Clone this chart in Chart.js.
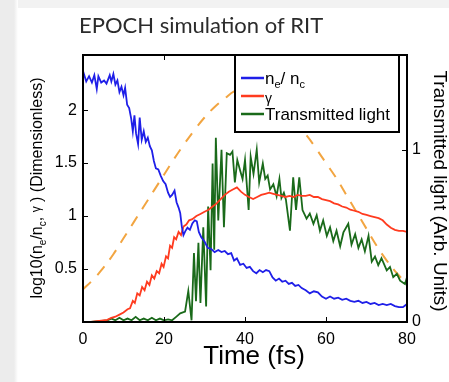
<!DOCTYPE html>
<html>
<head>
<meta charset="utf-8">
<script src="https://cdn.jsdelivr.net/npm/chart.js@4/dist/chart.umd.min.js"></script>
<style>
  html, body { margin: 0; padding: 0; background: #fff; }
  #wrap { position: relative; width: 449px; height: 382px; overflow: hidden; }
  #top-strip { position: absolute; left: 0; top: 0; width: 449px; height: 8px; background: #f2f2f2; }
  #left-strip { position: absolute; left: 0; top: 0; width: 18px; height: 382px;
    background: linear-gradient(to right, #ececec 0, #ececec 14px, #f6f6f6 16px, #fff 18px); }
  canvas { position: absolute; left: 0; top: 0; }
</style>
</head>
<body>
<div id="wrap">
  <div id="top-strip"></div>
  <div id="left-strip"></div>
  <canvas id="rit-chart" width="449" height="382"></canvas>
</div>
<script>
// n_e / n_c (left axis, log10)
const neTime = [0,0.8,1.5,2.2,2.8,3.4,3.8,4.5,5.2,5.8,
  6.6,7.0,7.5,8.0,8.5,9.0,9.5,10.0,10.4,10.9,
  11.4,11.9,12.3,12.7,13.1,13.6,14.0,14.5,15.0,15.5,
  16.0,16.5,17.0,17.5,18.0,18.6,19.2,19.8,20.4,21.0,
  21.5,22.0,22.6,23.1,23.6,24.0,24.4,24.8,25.3,25.8,
  26.4,27.0,27.6,28.1,28.6,29.2,30.0,30.8,31.6,32.5,
  33.4,34.2,35.0,35.8,36.6,37.3,38.0,38.8,39.6,40.4,
  41.2,42.0,42.8,43.6,44.4,45.2,46.0,46.8,47.6,48.4,
  49.2,50.0,50.8,51.6,52.4,53.2,54,55,56,57,
  58,59,60,61,62,63,64,65,66,67,
  68,69,70,71,72,73,74,75,76,77,
  78,79,80]
const neValues = [2.37,2.27,2.32,2.26,2.33,2.20,2.32,2.26,2.28,2.25,
  2.33,2.27,2.34,2.24,2.28,2.17,2.22,2.14,2.21,2.05,
  2.02,1.92,1.80,1.95,1.78,1.68,1.93,1.72,1.80,1.70,
  1.74,1.66,1.62,1.52,1.45,1.44,1.38,1.33,1.30,1.22,
  1.18,1.20,1.24,1.13,1.08,1.03,0.90,0.82,0.86,0.89,
  0.87,0.93,0.96,0.95,0.85,0.80,0.76,0.70,0.69,0.66,
  0.68,0.66,0.67,0.64,0.65,0.58,0.60,0.54,0.55,0.51,
  0.52,0.48,0.46,0.49,0.47,0.49,0.48,0.42,0.39,0.41,
  0.38,0.39,0.36,0.37,0.34,0.35,0.32,0.30,0.27,0.29,
  0.28,0.24,0.22,0.24,0.22,0.23,0.21,0.22,0.20,0.19,
  0.20,0.18,0.19,0.17,0.18,0.16,0.17,0.16,0.17,0.15,
  0.14,0.14,0.17]

// gamma (left axis)
const gammaTime = [0,2,4,6,7,8,9,10,11,11.6,
  12.3,12.8,13.4,14,14.6,15.2,15.8,16.4,17,17.6,
  18.2,18.8,19.4,19.9,20.5,21,21.5,22,22.5,23,
  23.6,24.2,24.8,25.5,26.2,27,28,29,30,31,
  32,33,34,35,36,37,38,39,40,41,
  42,43,44,45,46,47,48,49,50,51,
  52,53,54,55,56,57,58,59,60,61,
  62,63,64,65,66,67,68,69,70,71,
  72,73,74,75,76,77,78,79,80]
const gammaValues = [0,0,0.01,0.02,0.04,0.05,0.07,0.09,0.12,0.13,
  0.20,0.18,0.27,0.25,0.33,0.30,0.38,0.35,0.44,0.41,
  0.48,0.46,0.55,0.52,0.62,0.60,0.72,0.70,0.80,0.78,
  0.85,0.82,0.90,0.92,0.96,0.97,1.00,1.02,1.04,1.06,
  1.09,1.12,1.16,1.20,1.23,1.25,1.27,1.23,1.20,1.18,
  1.16,1.18,1.20,1.21,1.22,1.21,1.20,1.19,1.18,1.19,
  1.18,1.20,1.19,1.19,1.20,1.18,1.18,1.16,1.15,1.14,
  1.12,1.11,1.09,1.08,1.06,1.05,1.04,1.02,1.01,1.00,
  0.99,0.98,0.96,0.92,0.89,0.87,0.86,0.86,0.85]

// laser envelope, dashed (left axis)
const pulseTime = [0,2.5,5,7.5,10,12.5,15,17.5,20,22.5,
  25,27.5,30,32.5,35,37.5,40,42.5,45,47.5,
  50,52.5,55,57.5,60,62.5,65,67.5,70,72.5,
  75,77.5,80]
const pulseValues = [0.31,0.40,0.51,0.64,0.79,0.94,1.09,1.24,1.39,1.54,
  1.68,1.81,1.93,2.03,2.11,2.18,2.20,2.17,2.12,2.05,
  1.96,1.87,1.77,1.64,1.50,1.36,1.20,1.04,0.88,0.72,
  0.58,0.46,0.36]

// transmitted light (right axis)
const lightTime = [0,2,4,6,7,8,9,10,11,12,
  13,14,15,16,17,18,19,20,21,22,
  23,24,25.2,26,26.8,27.4,27.9,28.5,29,29.7,
  30.4,30.9,31.5,32,32.4,32.8,33.4,34.2,34.8,35.5,
  36.3,36.9,37.5,38.1,38.8,39.4,40,40.9,41.4,42.1,
  42.9,43.5,44.4,45,45.6,46.2,47,47.8,48.5,49,
  49.6,50.1,51.1,51.9,52.6,53.4,54.2,55.2,56,56.9,
  57.7,58.5,59.3,60.2,61,61.8,62.6,63.5,64.3,65.5,
  66.3,67.2,68,68.8,69.6,70.5,71.3,72.1,72.9,73.7,
  75,75.8,76.6,77.5,78.3,79.5,80]
const lightValues = [0,0,0.005,0.01,0.02,0.01,0.025,0.01,0.02,0.01,
  0.03,0.01,0.02,0.01,0.025,0.01,0.02,0.01,0.015,0.01,
  0.03,0.05,0.06,0.18,0.01,0.40,0.12,0.46,0.11,0.55,
  0.09,0.67,0.30,0.92,0.42,1.07,0.59,1.00,0.55,0.98,
  0.97,0.99,0.81,0.94,0.88,0.83,0.94,0.65,0.96,0.86,
  1.00,0.81,0.92,0.83,0.85,0.77,0.80,0.73,0.83,0.72,
  0.75,0.71,0.53,0.84,0.65,0.84,0.65,0.60,0.63,0.57,
  0.62,0.53,0.59,0.50,0.55,0.47,0.53,0.44,0.52,0.57,
  0.45,0.51,0.43,0.48,0.41,0.50,0.35,0.38,0.33,0.37,
  0.30,0.32,0.26,0.28,0.24,0.22,0.26]

const xTicks = [0, 20, 40, 60, 80]
const leftTicks = [0.5, 1, 1.5, 2]
const rightTicks = [0, 1]

const legendItems = [
  { parts: [['n', 17, 0], ['e', 11, 4], ['/ n', 17, 0], ['c', 11, 4]], color: '#1f1fe8' },
  { parts: [['γ', 14, 1]], color: '#ff3b1f' },
  { parts: [['Transmitted light', 17, 0]], color: '#1a6a1a' },
]

const toXY = (ts, vs) => ts.map((t, i) => ({ x: t, y: vs[i] }))
const FONT = '"Liberation Sans", Arial, sans-serif'

// draw a run of text pieces [text, size, dy] starting at x
function drawParts(ctx, parts, x, y, align) {
  let total = 0
  parts.forEach(([t, s]) => { ctx.font = `${s}px ${FONT}`; total += ctx.measureText(t).width })
  let cx = align === 'center' ? x - total / 2 : x
  ctx.textAlign = 'left'
  ctx.textBaseline = 'alphabetic'
  parts.forEach(([t, s, dy]) => {
    ctx.font = `${s}px ${FONT}`
    ctx.fillText(t, cx, y + dy)
    cx += ctx.measureText(t).width
  })
}

const decorations = {
  id: 'decorations',
  afterDatasetsDraw(chart) {
    const { ctx, chartArea: a, scales } = chart
    ctx.save()
    ctx.strokeStyle = '#000'
    ctx.lineWidth = 1
    // inward tick marks
    ctx.beginPath()
    xTicks.forEach(v => {
      const px = Math.round(scales.x.getPixelForValue(v)) + 0.5
      ctx.moveTo(px, a.bottom); ctx.lineTo(px, a.bottom - 5)
      ctx.moveTo(px, a.top); ctx.lineTo(px, a.top + 5)
    })
    leftTicks.forEach(v => {
      const py = Math.round(scales.y.getPixelForValue(v)) + 0.5
      ctx.moveTo(a.left, py); ctx.lineTo(a.left + 5, py)
    })
    rightTicks.forEach(v => {
      const py = Math.round(scales.y2.getPixelForValue(v)) + 0.5
      ctx.moveTo(a.right, py); ctx.lineTo(a.right - 5, py)
    })
    ctx.stroke()
    // frame
    ctx.lineWidth = 2
    ctx.strokeRect(a.left, a.top, a.right - a.left, a.bottom - a.top)

    // legend box
    const lx = 235, ly = a.top, lw = 164, lh = 77
    ctx.fillStyle = '#fff'
    ctx.fillRect(lx, ly, lw, lh)
    ctx.strokeRect(lx, ly, lw, lh)
    legendItems.forEach((item, i) => {
      const y = ly + 23 + i * 18
      ctx.strokeStyle = item.color
      ctx.lineWidth = 2.5
      ctx.beginPath(); ctx.moveTo(241, y); ctx.lineTo(264, y); ctx.stroke()
      ctx.fillStyle = '#000'
      drawParts(ctx, item.parts, 265, y + 6, 'left')
    })
    ctx.restore()
  },
  afterDraw(chart) {
    const { ctx } = chart
    ctx.save()
    // title
    ctx.fillStyle = '#2b2b2b'
    ctx.font = '22px Lato, "Open Sans", sans-serif'
    ctx.textAlign = 'left'
    ctx.textBaseline = 'alphabetic'
    ctx.fillText('EPOCH simulation of RIT', 79, 33)
    // x title
    ctx.fillStyle = '#000'
    drawParts(ctx, [['Time (fs)', 26, 0]], 254, 364, 'center')
    // left title
    ctx.save()
    ctx.translate(42, 188)
    ctx.rotate(-Math.PI / 2)
    drawParts(ctx, [['log10(n', 16, 0], ['e', 10, 4], ['/n', 16, 0], ['c', 10, 4],
      [', ', 16, 0], ['γ', 12, -2], [' ) (Dimensionless)', 16, 0]], 0, 0, 'center')
    ctx.restore()
    // right title
    ctx.save()
    ctx.translate(434, 191)
    ctx.rotate(Math.PI / 2)
    drawParts(ctx, [['Transmitted light (Arb. Units)', 19, 0]], 0, 0, 'center')
    ctx.restore()
    ctx.restore()
  },
}

const tickFont = { family: FONT, size: 16 }
const plainLabel = v => String(v)

new Chart(document.getElementById('rit-chart'), {
  type: 'line',
  data: {
    datasets: [
      { label: 'ne/nc', data: toXY(neTime, neValues), yAxisID: 'y',
        borderColor: '#1f1fe8', borderWidth: 1.8, pointRadius: 0, tension: 0 },
      { label: 'gamma', data: toXY(gammaTime, gammaValues), yAxisID: 'y',
        borderColor: '#ff3b1f', borderWidth: 1.8, pointRadius: 0, tension: 0 },
      { label: 'Transmitted light', data: toXY(lightTime, lightValues), yAxisID: 'y2',
        borderColor: '#1a6a1a', borderWidth: 1.8, pointRadius: 0, tension: 0 },
      { label: 'pulse', data: toXY(pulseTime, pulseValues), yAxisID: 'y',
        borderColor: '#f2a541', borderWidth: 2, borderDash: [11, 9], pointRadius: 0, tension: 0.4 },
    ],
  },
  options: {
    responsive: false,
    animation: false,
    events: [],
    layout: { padding: { top: 55, left: 0, right: 0, bottom: 0 } },
    plugins: { legend: { display: false }, tooltip: { enabled: false } },
    scales: {
      x: {
        type: 'linear', min: 0, max: 80,
        afterBuildTicks: s => { s.ticks = xTicks.map(v => ({ value: v })) },
        afterFit: s => { s.height = 60 },
        grid: { display: false, drawTicks: false },
        border: { display: false },
        ticks: { color: '#000', font: tickFont, padding: 8, maxRotation: 0, callback: plainLabel },
      },
      y: {
        position: 'left', min: 0, max: 2.52,
        afterBuildTicks: s => { s.ticks = leftTicks.map(v => ({ value: v })) },
        afterFit: s => { s.width = 83 },
        grid: { display: false, drawTicks: false },
        border: { display: false },
        ticks: { color: '#000', font: tickFont, padding: 6, callback: plainLabel },
      },
      y2: {
        position: 'right', min: 0, max: 1.55,
        afterBuildTicks: s => { s.ticks = rightTicks.map(v => ({ value: v })) },
        afterFit: s => { s.width = 42 },
        grid: { display: false, drawTicks: false },
        border: { display: false },
        ticks: { color: '#000', font: tickFont, padding: 5, callback: plainLabel },
      },
    },
  },
  plugins: [decorations],
})
</script>
</body>
</html>
